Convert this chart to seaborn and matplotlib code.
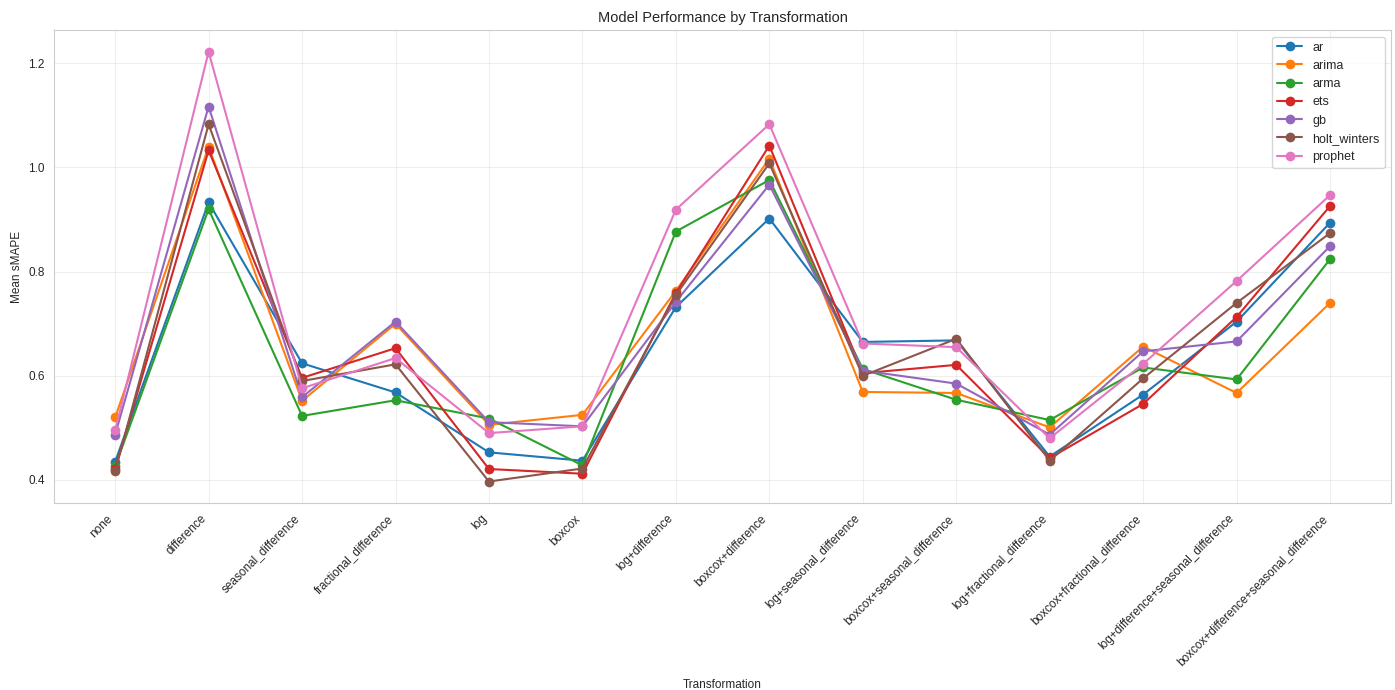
import numpy as np
import pandas as pd
import matplotlib
matplotlib.use("Agg")
import matplotlib.pyplot as plt
import seaborn as sns

transformations = ['none', 'difference', 'seasonal_difference', 'fractional_difference', 'log', 'boxcox',
                   'log+difference', 'boxcox+difference', 'log+seasonal_difference',
                   'boxcox+seasonal_difference', 'log+fractional_difference', 'boxcox+fractional_difference',
                   'log+difference+seasonal_difference', 'boxcox+difference+seasonal_difference']

ar = [0.435, 0.933, 0.624, 0.568, 0.453, 0.437, 0.732, 0.902, 0.665, 0.668, 0.445, 0.564, 0.704, 0.894]
arima = [0.520, 1.040, 0.552, 0.700, 0.506, 0.525, 0.763, 1.017, 0.569, 0.567, 0.501, 0.656, 0.567, 0.740]
arma = [0.426, 0.920, 0.523, 0.553, 0.518, 0.428, 0.877, 0.976, 0.613, 0.554, 0.515, 0.616, 0.593, 0.824]
ets = [0.422, 1.033, 0.596, 0.653, 0.421, 0.412, 0.759, 1.042, 0.605, 0.621, 0.442, 0.546, 0.713, 0.926]
gb = [0.487, 1.117, 0.559, 0.704, 0.511, 0.503, 0.742, 0.967, 0.610, 0.585, 0.487, 0.647, 0.666, 0.849]
holt_winters = [0.417, 1.083, 0.590, 0.622, 0.397, 0.422, 0.755, 1.008, 0.600, 0.671, 0.437, 0.595, 0.740, 0.874]
prophet = [0.495, 1.222, 0.576, 0.634, 0.490, 0.503, 0.919, 1.083, 0.662, 0.655, 0.480, 0.623, 0.782, 0.947]

models = {'ar': ar, 'arima': arima, 'arma': arma, 'ets': ets, 'gb': gb,
          'holt_winters': holt_winters, 'prophet': prophet}

sns.set_style("whitegrid")
plt.rcParams['font.family'] = ['Liberation Sans', 'DejaVu Sans']

fig, ax = plt.subplots(figsize=(13.95, 6.9), dpi=100)
colors = sns.color_palette("tab10")

# one line per model
for i, (name, vals) in enumerate(models.items()):
    sns.lineplot(x=transformations, y=vals, marker='o', markersize=7, markeredgewidth=0,
                 color=colors[i], label=name, ax=ax, sort=False)

# Decorations
ax.set_title("Model Performance by Transformation", fontsize=10.5)
ax.set_xlabel("Transformation", fontsize=8.5, labelpad=8)
ax.set_ylabel("Mean sMAPE", fontsize=8.5)
ax.grid(True, alpha=0.3)
plt.xticks(rotation=45, ha='right', fontsize=8.5)
plt.yticks(fontsize=8.5)
ax.legend(loc='upper right', fontsize=9)

plt.subplots_adjust(left=0.039, right=0.997, top=0.956, bottom=0.271)
plt.savefig("out.png", dpi=100)
